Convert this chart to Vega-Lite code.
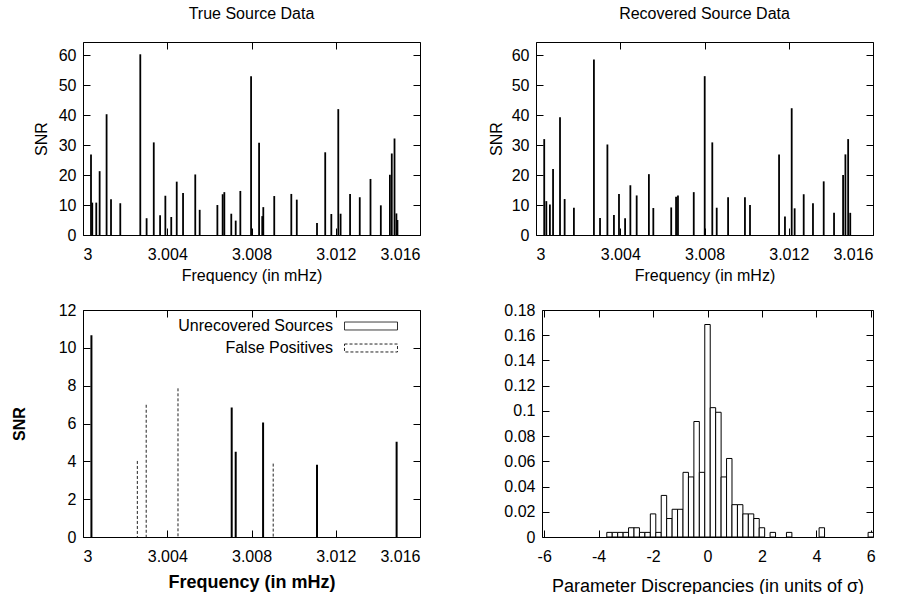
{
  "$schema": "https://vega.github.io/schema/vega-lite/v6.json",
  "background": "white",
  "padding": {"left": 10, "top": 5, "right": 5, "bottom": 5},
  "datasets": {
    "trueSrc": [
      {"f": 3.00038, "snr": 26.9}, {"f": 3.00044, "snr": 10.8}, {"f": 3.00063, "snr": 10.8}, {"f": 3.00079, "snr": 21.3},
      {"f": 3.00112, "snr": 40.3}, {"f": 3.00133, "snr": 11.9}, {"f": 3.00177, "snr": 10.6}, {"f": 3.00272, "snr": 60.3},
      {"f": 3.00302, "snr": 5.6}, {"f": 3.00336, "snr": 30.9}, {"f": 3.00366, "snr": 6.6}, {"f": 3.00391, "snr": 13.1},
      {"f": 3.00419, "snr": 6.0}, {"f": 3.00445, "snr": 17.8}, {"f": 3.00475, "snr": 14.0}, {"f": 3.00533, "snr": 20.2},
      {"f": 3.00554, "snr": 8.4}, {"f": 3.00638, "snr": 10.0}, {"f": 3.00663, "snr": 13.6}, {"f": 3.00671, "snr": 14.3},
      {"f": 3.00704, "snr": 7.1}, {"f": 3.00725, "snr": 4.8}, {"f": 3.00747, "snr": 14.7}, {"f": 3.00798, "snr": 53.0},
      {"f": 3.00836, "snr": 30.8}, {"f": 3.00851, "snr": 6.3}, {"f": 3.00856, "snr": 9.3}, {"f": 3.00908, "snr": 13.0},
      {"f": 3.00989, "snr": 13.7}, {"f": 3.01015, "snr": 11.8}, {"f": 3.01111, "snr": 4.0}, {"f": 3.0115, "snr": 27.6},
      {"f": 3.01179, "snr": 7.0}, {"f": 3.01212, "snr": 42.0}, {"f": 3.01223, "snr": 7.1}, {"f": 3.01268, "snr": 13.7},
      {"f": 3.01314, "snr": 12.6}, {"f": 3.01365, "snr": 18.7}, {"f": 3.01414, "snr": 9.9}, {"f": 3.01457, "snr": 20.1},
      {"f": 3.01466, "snr": 27.2}, {"f": 3.01479, "snr": 32.2}, {"f": 3.01488, "snr": 7.2}, {"f": 3.01493, "snr": 5.0}
    ],
    "recSrc": [
      {"f": 3.00039, "snr": 32.0}, {"f": 3.00049, "snr": 11.3}, {"f": 3.00066, "snr": 10.2}, {"f": 3.00081, "snr": 22.0},
      {"f": 3.00114, "snr": 39.3}, {"f": 3.00136, "snr": 12.0}, {"f": 3.0018, "snr": 9.1}, {"f": 3.00275, "snr": 58.6},
      {"f": 3.00304, "snr": 5.7}, {"f": 3.00339, "snr": 30.2}, {"f": 3.0037, "snr": 6.7}, {"f": 3.00394, "snr": 13.7},
      {"f": 3.00423, "snr": 5.6}, {"f": 3.00448, "snr": 16.6}, {"f": 3.00478, "snr": 13.2}, {"f": 3.00536, "snr": 20.3},
      {"f": 3.00557, "snr": 9.0}, {"f": 3.00642, "snr": 9.2}, {"f": 3.00665, "snr": 12.8}, {"f": 3.00674, "snr": 13.2},
      {"f": 3.00749, "snr": 14.3}, {"f": 3.00801, "snr": 53.0}, {"f": 3.00837, "snr": 30.9}, {"f": 3.00858, "snr": 9.1},
      {"f": 3.00912, "snr": 12.6}, {"f": 3.00992, "snr": 12.6}, {"f": 3.01016, "snr": 10.0}, {"f": 3.01154, "snr": 26.9},
      {"f": 3.01182, "snr": 6.2}, {"f": 3.01214, "snr": 42.3}, {"f": 3.01228, "snr": 8.9}, {"f": 3.01271, "snr": 13.6},
      {"f": 3.01315, "snr": 10.6}, {"f": 3.01366, "snr": 17.9}, {"f": 3.01415, "snr": 7.4}, {"f": 3.01458, "snr": 20.0},
      {"f": 3.01469, "snr": 26.9}, {"f": 3.01482, "snr": 32.0}, {"f": 3.01492, "snr": 7.4}
    ],
    "diff": [
      {"f": 3.0004, "snr": 10.67, "kind": "Unrecovered Sources"},
      {"f": 3.00706, "snr": 6.85, "kind": "Unrecovered Sources"},
      {"f": 3.00725, "snr": 4.51, "kind": "Unrecovered Sources"},
      {"f": 3.00855, "snr": 6.05, "kind": "Unrecovered Sources"},
      {"f": 3.01111, "snr": 3.82, "kind": "Unrecovered Sources"},
      {"f": 3.01489, "snr": 5.04, "kind": "Unrecovered Sources"},
      {"f": 3.00258, "snr": 4.02, "kind": "False Positives"},
      {"f": 3.003, "snr": 6.99, "kind": "False Positives"},
      {"f": 3.00451, "snr": 7.86, "kind": "False Positives"},
      {"f": 3.00903, "snr": 3.88, "kind": "False Positives"}
    ],
    "hist": [
      {"lo": -3.7, "hi": -3.5, "v": 0.00366}, {"lo": -3.5, "hi": -3.3, "v": 0.00366},
      {"lo": -3.3, "hi": -3.1, "v": 0.00366}, {"lo": -3.1, "hi": -2.9, "v": 0.00366},
      {"lo": -2.9, "hi": -2.7, "v": 0.00733}, {"lo": -2.7, "hi": -2.5, "v": 0.00733},
      {"lo": -2.5, "hi": -2.3, "v": 0.00366}, {"lo": -2.3, "hi": -2.1, "v": 0.00366},
      {"lo": -2.1, "hi": -1.9, "v": 0.01832}, {"lo": -1.9, "hi": -1.7, "v": 0.00366},
      {"lo": -1.7, "hi": -1.5, "v": 0.03297}, {"lo": -1.5, "hi": -1.3, "v": 0.01465},
      {"lo": -1.3, "hi": -1.1, "v": 0.02198}, {"lo": -1.1, "hi": -0.9, "v": 0.02198},
      {"lo": -0.9, "hi": -0.7, "v": 0.05128}, {"lo": -0.7, "hi": -0.5, "v": 0.04762},
      {"lo": -0.5, "hi": -0.3, "v": 0.09158}, {"lo": -0.3, "hi": -0.1, "v": 0.05128},
      {"lo": -0.1, "hi": 0.1, "v": 0.1685}, {"lo": 0.1, "hi": 0.3, "v": 0.10256},
      {"lo": 0.3, "hi": 0.5, "v": 0.0989}, {"lo": 0.5, "hi": 0.7, "v": 0.04762},
      {"lo": 0.7, "hi": 0.9, "v": 0.06227}, {"lo": 0.9, "hi": 1.1, "v": 0.02564},
      {"lo": 1.1, "hi": 1.3, "v": 0.02564}, {"lo": 1.3, "hi": 1.5, "v": 0.01832},
      {"lo": 1.5, "hi": 1.7, "v": 0.01832}, {"lo": 1.7, "hi": 1.9, "v": 0.01465},
      {"lo": 1.9, "hi": 2.1, "v": 0.00733}, {"lo": 2.3, "hi": 2.5, "v": 0.00366},
      {"lo": 2.9, "hi": 3.1, "v": 0.00366}, {"lo": 4.1, "hi": 4.3, "v": 0.00733},
      {"lo": 5.9, "hi": 6.1, "v": 0.00366}
    ]
  },
  "columns": 2,
  "spacing": {"row": 75, "column": 116},
  "bounds": "flush",
  "concat": [
    {
      "title": "True Source Data",
      "width": 337, "height": 193,
      "data": {"name": "trueSrc"},
      "layer": [
        {
          "mark": {"type": "rule", "strokeWidth": 1.8, "color": "black"},
          "encoding": {
            "x": {"field": "f", "type": "quantitative", "scale": {"domain": [3, 3.016], "nice": false, "zero": false},
                  "axis": {"values": [3, 3.004, 3.008, 3.012, 3.016], "labelExpr": "'' + datum.value", "title": "Frequency (in mHz)", "titleY": 40, "titleBaseline": "middle"}},
            "y": {"field": "snr", "type": "quantitative", "scale": {"domain": [0, 64.4], "nice": false},
                  "axis": {"values": [0, 10, 20, 30, 40, 50, 60], "labelExpr": "'' + datum.value", "title": "SNR", "titleX": -42, "titleBaseline": "middle"}},
            "y2": {"datum": 0}
          }
        },
        {
          "mark": {"type": "rule", "opacity": 0},
          "encoding": {
            "x": {"field": "f", "type": "quantitative", "axis": {"orient": "top", "values": [3, 3.004, 3.008, 3.012, 3.016], "labels": false, "title": null, "minExtent": 0, "maxExtent": 0}},
            "y": {"field": "snr", "type": "quantitative", "axis": {"orient": "right", "values": [0, 10, 20, 30, 40, 50, 60], "labels": false, "title": null, "minExtent": 0, "maxExtent": 0}},
            "y2": {"datum": 0}
          }
        }
      ],
      "resolve": {"axis": {"x": "independent", "y": "independent"}}
    },
    {
      "title": "Recovered Source Data",
      "width": 337, "height": 193,
      "data": {"name": "recSrc"},
      "layer": [
        {
          "mark": {"type": "rule", "strokeWidth": 1.8, "color": "black"},
          "encoding": {
            "x": {"field": "f", "type": "quantitative", "scale": {"domain": [3, 3.016], "nice": false, "zero": false},
                  "axis": {"values": [3, 3.004, 3.008, 3.012, 3.016], "labelExpr": "'' + datum.value", "title": "Frequency (in mHz)", "titleY": 40, "titleBaseline": "middle"}},
            "y": {"field": "snr", "type": "quantitative", "scale": {"domain": [0, 64.4], "nice": false},
                  "axis": {"values": [0, 10, 20, 30, 40, 50, 60], "labelExpr": "'' + datum.value", "title": "SNR", "titleX": -40, "titleBaseline": "middle"}},
            "y2": {"datum": 0}
          }
        },
        {
          "mark": {"type": "rule", "opacity": 0},
          "encoding": {
            "x": {"field": "f", "type": "quantitative", "axis": {"orient": "top", "values": [3, 3.004, 3.008, 3.012, 3.016], "labels": false, "title": null, "minExtent": 0, "maxExtent": 0}},
            "y": {"field": "snr", "type": "quantitative", "axis": {"orient": "right", "values": [0, 10, 20, 30, 40, 50, 60], "labels": false, "title": null, "minExtent": 0, "maxExtent": 0}},
            "y2": {"datum": 0}
          }
        }
      ],
      "resolve": {"axis": {"x": "independent", "y": "independent"}}
    },
    {
      "width": 337, "height": 227,
      "data": {"name": "diff"},
      "layer": [
        {
          "transform": [{"filter": "datum.kind == 'Unrecovered Sources'"}],
          "mark": {"type": "rule", "strokeWidth": 2, "color": "black"},
          "encoding": {
            "x": {"field": "f", "type": "quantitative", "scale": {"domain": [3, 3.016], "nice": false, "zero": false},
                  "axis": {"values": [3, 3.004, 3.008, 3.012, 3.016], "labelExpr": "'' + datum.value", "title": "Frequency (in mHz)", "titleY": 45, "titleBaseline": "middle", "titleFontWeight": "bold", "titleFontSize": 18}},
            "y": {"field": "snr", "type": "quantitative", "scale": {"domain": [0, 12], "nice": false},
                  "axis": {"values": [0, 2, 4, 6, 8, 10, 12], "labelExpr": "'' + datum.value", "title": "SNR", "titleX": -64, "titleBaseline": "middle", "titleFontWeight": "bold"}},
            "y2": {"datum": 0},
            "strokeDash": {"field": "kind", "type": "nominal",
              "scale": {"domain": ["Unrecovered Sources", "False Positives"], "range": [[1, 0], [3, 2]]},
              "legend": {"orient": "none", "legendX": 274, "legendY": 270, "title": null,
                "symbolType": "M-2,-0.3H2V0.3H-2Z", "symbolSize": 702,
                "symbolStrokeColor": "black", "symbolFillColor": "white", "symbolStrokeWidth": 1,
                "labelAlign": "right", "labelOffset": -52, "labelFontSize": 16, "labelColor": "black",
                "rowPadding": 0, "padding": 0}}
          }
        },
        {
          "transform": [{"filter": "datum.kind == 'False Positives'"}],
          "mark": {"type": "rule", "strokeWidth": 1, "color": "#222222"},
          "encoding": {
            "x": {"field": "f", "type": "quantitative", "axis": null},
            "y": {"field": "snr", "type": "quantitative", "axis": null},
            "y2": {"datum": 0},
            "strokeDash": {"field": "kind", "type": "nominal"}
          }
        },
        {
          "mark": {"type": "rule", "opacity": 0},
          "encoding": {
            "x": {"field": "f", "type": "quantitative", "axis": {"orient": "top", "values": [3, 3.004, 3.008, 3.012, 3.016], "labels": false, "title": null, "minExtent": 0, "maxExtent": 0}},
            "y": {"field": "snr", "type": "quantitative", "axis": {"orient": "right", "values": [0, 2, 4, 6, 8, 10, 12], "labels": false, "title": null, "minExtent": 0, "maxExtent": 0}},
            "y2": {"datum": 0}
          }
        }
      ],
      "resolve": {"axis": {"x": "independent", "y": "independent"}}
    },
    {
      "width": 337, "height": 227,
      "view": {"stroke": null},
      "data": {"name": "hist"},
      "layer": [
        {
          "mark": {"type": "bar", "fill": "white", "stroke": "black", "strokeWidth": 1, "clip": true},
          "encoding": {
            "x": {"field": "lo", "type": "quantitative", "scale": {"domain": [-6.08, 6.08], "nice": false, "zero": false, "range": [6, 337]},
                  "axis": {"values": [-6, -4, -2, 0, 2, 4, 6], "labelExpr": "'' + datum.value", "title": "Parameter Discrepancies (in units of σ)", "titleY": 49, "titleBaseline": "middle", "titleFontSize": 18, "domain": true, "domainColor": "black", "domainWidth": 1}},
            "x2": {"field": "hi"},
            "y": {"field": "v", "type": "quantitative", "scale": {"domain": [0, 0.18], "nice": false},
                  "axis": {"values": [0, 0.02, 0.04, 0.06, 0.08, 0.1, 0.12, 0.14, 0.16, 0.18], "labelExpr": "'' + datum.value", "title": null, "offset": -6, "domain": true, "domainColor": "black", "domainWidth": 1}},
            "y2": {"datum": 0}
          }
        },
        {
          "mark": {"type": "bar", "opacity": 0},
          "encoding": {
            "x": {"field": "lo", "type": "quantitative", "axis": {"orient": "top", "values": [-6, -4, -2, 0, 2, 4, 6], "labels": false, "title": null, "minExtent": 0, "maxExtent": 0, "domain": true, "domainColor": "black", "domainWidth": 1}},
            "x2": {"field": "hi"},
            "y": {"field": "v", "type": "quantitative", "axis": {"orient": "right", "values": [0, 0.02, 0.04, 0.06, 0.08, 0.1, 0.12, 0.14, 0.16, 0.18], "labels": false, "title": null, "minExtent": 0, "maxExtent": 0, "domain": true, "domainColor": "black", "domainWidth": 1}},
            "y2": {"datum": 0}
          }
        }
      ],
      "resolve": {"axis": {"x": "independent", "y": "independent"}}
    }
  ],
  "config": {
    "font": "Liberation Sans",
    "view": {"stroke": "black", "strokeWidth": 1},
    "axis": {"domain": false, "grid": false, "ticks": true, "tickColor": "black", "tickSize": -7, "tickWidth": 1,
             "labelColor": "black", "titleColor": "black", "labelFontSize": 16, "titleFontSize": 16,
             "titleFontWeight": "normal", "labelFont": "Liberation Sans", "titleFont": "Liberation Sans"},
    "axisX": {"labelPadding": 18},
    "axisY": {"labelPadding": 14},
    "title": {"fontSize": 16, "fontWeight": "normal", "font": "Liberation Sans", "color": "black", "offset": 20}
  }
}
